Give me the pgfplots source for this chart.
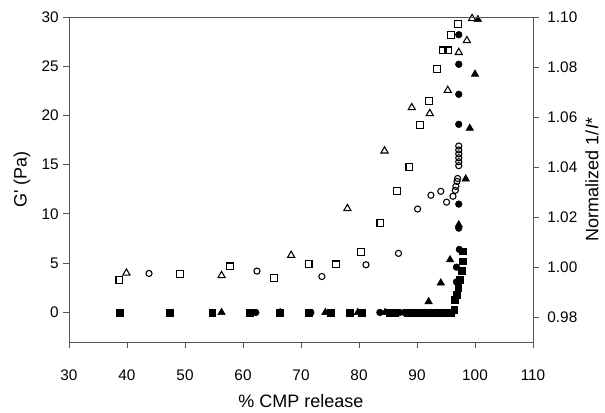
\documentclass[border=0pt]{standalone}
\usepackage{pgfplots}
\pgfplotsset{compat=1.18}
\usepackage{fontspec}
\setmainfont{Liberation Sans}
\usetikzlibrary{calc}

\definecolor{axisgray}{RGB}{85,85,85}

\pgfplotsset{
  common/.style={
    width=348pt, height=243.75pt, scale only axis,
    xmin=30, xmax=110,
    axis line style={axisgray, line width=0.7pt},
    tick style={axisgray, line width=0.7pt},
    major tick length=4.3pt,
    tick align=outside,
    /pgf/number format/assume math mode=true,
    tick label style={font=\fontsize{11.5}{13}\selectfont},
    label style={font=\fontsize{13.5}{15}\selectfont},
  },
  osq/.style={only marks, mark=square, mark size=2.6pt, mark options={black, line width=0.8pt, fill=white}},
  otr/.style={only marks, mark=triangle, mark size=3.1pt, mark options={black, line width=0.8pt, fill=white}},
  oci/.style={only marks, mark=o, mark size=2.3pt, mark options={black, line width=0.8pt, fill=white}},
  fsq/.style={only marks, mark=square*, mark size=2.5pt, mark options={black, fill=black}},
  ftr/.style={only marks, mark=triangle*, mark size=3.2pt, mark options={black, fill=black}},
  fci/.style={only marks, mark=*, mark size=2.5pt, mark options={black, fill=black}},
}

\begin{document}
\begin{tikzpicture}
\begin{axis}[common, name=ax,
  ymin=-3, ymax=30,
  xtick={30,40,...,110}, ytick={0,5,...,30},
  axis x line*=bottom, axis y line*=left,
  xticklabel style={yshift=-12.75pt},
  xlabel={\% CMP release}, ylabel={G\textquotesingle{} (Pa)},
  xlabel style={at={(rel axis cs:0.5,0)}, anchor=center, yshift=-44.25pt},
  ylabel style={at={(rel axis cs:0,0.5)}, anchor=center, yshift=35.25pt},
  clip=false,
]
% open squares
\addplot[osq] coordinates {(38.7,3.3) (49.1,3.9) (57.8,4.67) (65.4,3.5) (71.3,4.9) (76.0,4.87) (80.3,6.15) (83.7,9.07) (86.5,12.3) (88.7,14.8) (90.5,19.0) (92.1,21.5) (93.4,24.7) (94.4,26.6) (95.3,26.6) (95.9,28.2) (97.0,29.25)};
% open triangles
\addplot[otr] coordinates {(39.9,4.0) (56.3,3.75) (68.3,5.8) (78.0,10.55) (84.4,16.4) (89.1,20.8) (92.2,20.2) (95.3,22.55) (97.2,26.4) (98.6,27.6) (99.5,29.85)};
% open circles
\addplot[oci] coordinates {(43.8,3.96) (62.4,4.2) (73.6,3.65) (81.2,4.84) (86.8,6.0) (90.1,10.5) (92.4,11.9) (94.1,12.3) (95.1,11.2) (96.2,11.8) (96.6,12.4) (96.7,12.8) (96.9,13.3) (97.0,13.6) (97.2,14.9) (97.2,15.3) (97.2,15.7) (97.2,16.1) (97.2,16.5) (97.2,16.9)};
% filled squares
\addplot[fsq] coordinates {(38.8,0) (47.4,0) (54.7,0) (61.2,0) (66.3,0) (71.3,0) (75.1,0) (78.4,0) (80.5,0) (85.2,0) (86.2,0) (88.3,0) (89.5,0) (90.7,0) (91.9,0) (93.0,0) (94.0,0) (95.0,0) (95.8,0) (96.4,0.3) (96.5,1.3) (96.8,1.8) (97.1,2.5) (97.4,3.3) (97.7,4.2) (97.9,5.2) (97.9,6.2)};
% filled circles
\addplot[fci] coordinates {(62.2,0) (71.7,0) (83.6,0) (87.0,0) (87.8,0) (88.9,0) (90.2,0) (91.4,0) (92.5,0) (93.5,0) (94.5,0) (95.4,0) (96.0,0) (96.8,3.1) (96.8,4.6) (97.3,6.4) (97.2,8.56) (97.2,11.0) (97.2,19.1) (97.2,22.15) (97.2,25.2) (97.2,28.2)};
% filled triangles
\addplot[ftr] coordinates {(56.3,0) (66.4,0) (74.2,0) (79.8,0) (84.5,0) (92.0,1.1) (94.1,3.0) (95.7,5.35) (97.2,8.9) (98.4,13.56) (99.1,18.7) (100.0,24.2) (100.5,29.75)};
\end{axis}
\begin{axis}[common,
  ymin=0.9703, ymax=1.10,
  ytick={0.98,1.00,...,1.10},
  axis x line=none, axis y line*=right,
  yticklabel style={xshift=3pt, /pgf/number format/.cd, fixed, fixed zerofill, precision=2},
  ylabel={Normalized 1/\textit{I}*},
  ylabel style={at={(rel axis cs:1,0.5)}, anchor=center, yshift=-44.25pt},
]
\end{axis}
\draw[axisgray, line width=0.7pt] (ax.north west) -- (ax.north east);
\path[use as bounding box] ($(ax.south west)+(-51.75pt,-51pt)$) rectangle ($(ax.north east)+(54pt,12.75pt)$);
\end{tikzpicture}
\end{document}
